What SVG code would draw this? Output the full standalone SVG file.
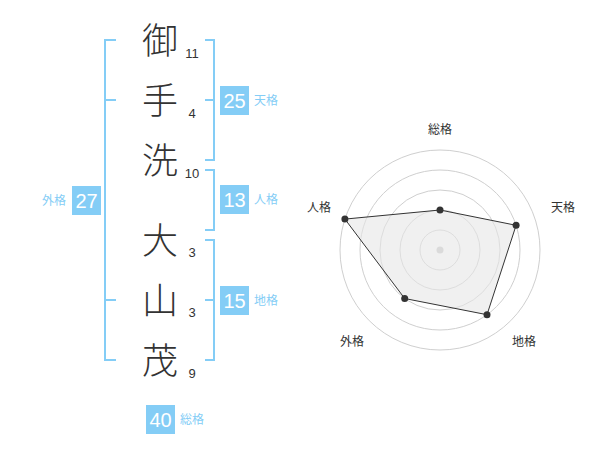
<svg xmlns="http://www.w3.org/2000/svg" width="600" height="470" viewBox="0 0 600 470">
<style>
.ch{font-family:"Noto Sans CJK JP","Noto Sans CJK SC",sans-serif;font-size:36px;font-weight:300;fill:#333;text-anchor:middle}
.num{font-family:"Liberation Sans",Arial,sans-serif;font-size:13px;fill:#333;text-anchor:middle}
.br{fill:none;stroke:#84cdf6;stroke-width:2}
.box{fill:#84cdf6}
.bt{font-family:"Liberation Sans",Arial,sans-serif;font-size:20px;fill:#fff;text-anchor:middle}
.lb{font-family:"Noto Sans CJK JP",sans-serif;font-size:12px;fill:#84cdf6}
.rl{font-family:"Noto Sans CJK JP",sans-serif;font-size:12px;fill:#333;text-anchor:middle}
.ring{fill:none;stroke:#cfcfcf;stroke-width:1}
.dot{fill:#333}
</style>
<rect width="600" height="470" fill="#fff"/>
<g id="connectors">
<path class="br" d="M116,40 H105 V360 H116 M105,100 H116 M105,300 H116"/>
<path class="br" d="M205,40 H214 V160 H205 M205,100 H214"/>
<path class="br" d="M205,170 H214 V230 H205"/>
<path class="br" d="M205,240 H214 V360 H205 M205,300 H214"/>
</g>
<g id="name">
<g id="c1"><text class="ch" x="160" y="54">御</text><text class="num" x="192" y="58">11</text></g>
<g id="c2"><text class="ch" x="160" y="114">手</text><text class="num" x="192" y="118">4</text></g>
<g id="c3"><text class="ch" x="160" y="174">洗</text><text class="num" x="192" y="178">10</text></g>
<g id="c4"><text class="ch" x="160" y="254">大</text><text class="num" x="192" y="257">3</text></g>
<g id="c5"><text class="ch" x="160" y="314">山</text><text class="num" x="192" y="317">3</text></g>
<g id="c6"><text class="ch" x="160" y="374">茂</text><text class="num" x="192" y="378">9</text></g>
</g>
<g id="tenkaku"><rect class="box" x="220" y="86" width="29" height="29"/><text class="bt" x="234.5" y="107.5">25</text><text class="lb" x="254" y="105">天格</text></g>
<g id="jinkaku"><rect class="box" x="220" y="185" width="29" height="29"/><text class="bt" x="234.5" y="206.5">13</text><text class="lb" x="254" y="204">人格</text></g>
<g id="chikaku"><rect class="box" x="220" y="286" width="29" height="29"/><text class="bt" x="234.5" y="307.5">15</text><text class="lb" x="254" y="305">地格</text></g>
<g id="gaikaku"><rect class="box" x="72" y="186" width="29" height="29"/><text class="bt" x="86.5" y="207.5">27</text><text class="lb" x="66" y="205" text-anchor="end">外格</text></g>
<g id="soukaku"><rect class="box" x="146" y="405" width="29" height="29"/><text class="bt" x="160.5" y="426.5">40</text><text class="lb" x="180" y="424">総格</text></g>
<g id="radar">
<circle class="ring" cx="440" cy="250" r="20"/>
<circle class="ring" cx="440" cy="250" r="40"/>
<circle class="ring" cx="440" cy="250" r="60"/>
<circle class="ring" cx="440" cy="250" r="80"/>
<circle class="ring" cx="440" cy="250" r="100"/>
<circle cx="440" cy="250" r="3.5" fill="#c8c8c8"/>
<polygon points="440,210 516.1,225.3 487,314.7 404.7,298.5 344.9,219.1" fill="#e6e6e6" fill-opacity="0.6" stroke="#333" stroke-width="1"/>
<circle class="dot" cx="440" cy="210" r="3.5"/>
<circle class="dot" cx="516.1" cy="225.3" r="3.5"/>
<circle class="dot" cx="487" cy="314.7" r="3.5"/>
<circle class="dot" cx="404.7" cy="298.5" r="3.5"/>
<circle class="dot" cx="344.9" cy="219.1" r="3.5"/>
<text class="rl" x="440" y="134">総格</text>
<text class="rl" x="563" y="212">天格</text>
<text class="rl" x="524" y="346">地格</text>
<text class="rl" x="352" y="346">外格</text>
<text class="rl" x="319" y="212">人格</text>
</g>
</svg>
